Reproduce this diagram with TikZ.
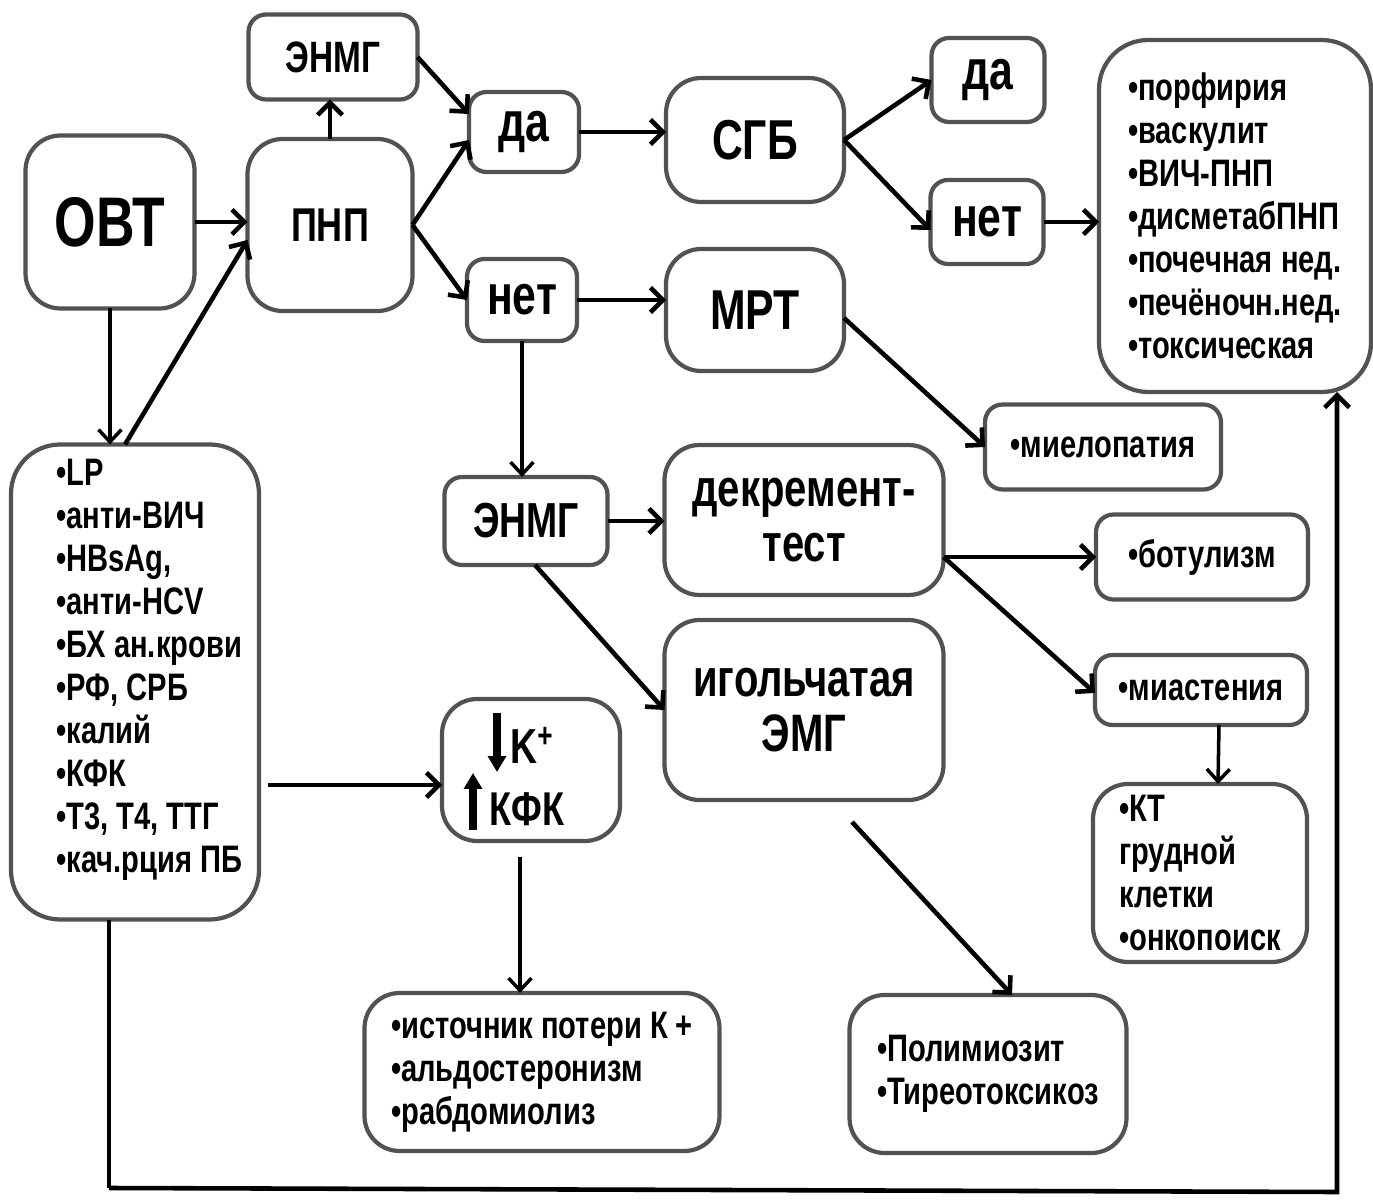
\documentclass[tikz,border=0pt]{standalone}
\usepackage{fontspec}
\setmainfont{Liberation Sans}[FakeStretch=0.76]
\usetikzlibrary{arrows.meta,calc}
\tikzset{
  box/.style={draw=black!68, line width=2.4pt, rounded corners=10pt, align=center, inner sep=2pt, outer sep=0pt, font=\bfseries},
  bigr/.style={rounded corners=20pt},
  sz/.style 2 args={minimum width={#1*0.02cm}, minimum height={#2*0.02cm}},
  fs/.style 2 args={font=\bfseries\fontsize{#1}{#2}\selectfont},
  lst/.style={align=left, font=\bfseries\fontsize{21.8}{24.5}\selectfont},
  ar/.style={-{Straight Barb[length=7pt,width=14pt]}, line width=2.6pt},
  art/.style={-{Straight Barb[length=7pt,width=13pt]}, line width=2pt},
  ln/.style={line width=2pt},
  sym/.style={-{Triangle[length=9pt,width=10pt]}, line width=4pt}
}
\begin{document}
\begin{tikzpicture}[x=0.02cm, y=-0.02cm]
\useasboundingbox (0,0) rectangle (1373,1202);
% nodes
\node[box, sz={169}{85}, fs={25}{28}] (enmgA) at (333,57) {ЭНМГ};
\node[box, bigr, sz={169}{173}, fs={40}{44}] (ovt) at (110,222) {ОВТ};
\node[box, bigr, sz={165}{172}, fs={27}{30}] (pnp) at (330,225) {ПНП};
\node[box, sz={110}{80}, fs={32}{36}] (daA) at (524,132) {да};
\node[box, sz={110}{82}, fs={32}{36}] (netA) at (522,300) {нет};
\node[box, bigr, sz={178}{124}, fs={32}{36}] (sgb) at (755,140) {СГБ};
\node[box, bigr, sz={178}{122}, fs={32}{36}] (mrt) at (755,310) {МРТ};
\node[box, sz={113}{84}, fs={32}{36}] (daB) at (988,80) {да};
\node[box, sz={113}{84}, fs={32}{36}] (netB) at (987,222) {нет};
\node[box, rounded corners=28pt, sz={272}{352}, lst] (big) at (1235,216)
  {•порфирия\\•васкулит\\•ВИЧ-ПНП\\•дисметабПНП\\•почечная нед.\\•печёночн.нед.\\•токсическая};
\node[box, sz={236}{85}, lst] (miel) at (1103,447) {•миелопатия};
\node[box, sz={163}{88}, fs={28}{31}] (enmgB) at (526,521) {ЭНМГ};
\node[box, bigr, sz={279}{150}, fs={30}{31}] (dekr) at (804,520) {декремент-\\тест};
\node[box, bigr, sz={279}{180}, fs={30}{31}] (igol) at (804,710) {игольчатая\\ЭМГ};
\node[box, sz={212}{85}, lst] (bot) at (1202,557) {•ботулизм};
\node[box, sz={212}{70}, lst] (miast) at (1201,690) {•миастения};
\node[box, bigr, sz={214}{178}, lst] (kt) at (1200,873) {•КТ\\грудной\\клетки\\•онкопоиск};
\node[box, rounded corners=28pt, sz={248}{475}] (list) at (135,682) {};
\node[lst, anchor=west, inner sep=0pt] (listt) at (56,670)
  {•LP\\•анти-ВИЧ\\•HBsAg,\\•анти-HCV\\•БХ ан.крови\\•РФ, СРБ\\•калий\\•КФК\\•Т3, Т4, ТТГ\\•кач.рция ПБ};
\node[box, bigr, sz={178}{142}] (kbox) at (531,770) {};
\node[fs={28}{30}] (ktxt) at (532,745) {K\textsuperscript{+}};
\node[fs={27}{30}] (kfk) at (527,809) {КФК};
\draw[sym] (497,713) -- (497,772);
\draw[sym] (473,830) -- (473,773);
\node[box, bigr, sz={355}{158}, lst] (src) at (542,1072) {•источник потери К +\\•альдостеронизм\\•рабдомиолиз};
\node[box, bigr, sz={277}{158}, lst] (poly) at (988,1074) {•Полимиозит\\•Тиреотоксикоз};
% free ends
\coordinate (la) at (268,785);
\coordinate (kb) at (520,857);
\coordinate (ig) at (852,822);
\coordinate (c1) at (109,1188);
\coordinate (c2) at (1337,1192);
% connectors
\draw[ar] (ovt.east) -- (pnp.west |- ovt.east);
\draw[art] (ovt.south) -- (ovt.south |- list.north);
\draw[ar] ($(list.north)+(-10,0)$) -- ($(pnp.west)+(0,15)$);
\draw[ar] (pnp.north) -- (pnp.north |- enmgA.south);
\draw[ar] (enmgA.east) -- ($(daA.west)+(0,-18)$);
\draw[ar] (pnp.east) -- ($(daA.west)+(0,8)$);
\draw[ar] (pnp.east) -- (netA.west);
\draw[ar] (daA.east) -- (daA.east -| sgb.west);
\draw[ar] (netA.east) -- (netA.east -| mrt.west);
\draw[ar] (sgb.east) -- (daB.west);
\draw[ar] (sgb.east) -- ($(netB.west)+(0,8)$);
\draw[ar] (netB.east) -- (netB.east -| big.west);
\draw[ar] ($(mrt.east)+(0,8)$) -- (miel.west);
\draw[art] (netA.south) -- (netA.south |- enmgB.north);
\draw[ar] (enmgB.east) -- (enmgB.east -| dekr.west);
\draw[ar] ($(enmgB.south)+(9,0)$) -- ($(igol.west)+(0,0)$);
\draw[ar] (dekr.east |- bot.west) -- (bot.west);
\draw[ar] (dekr.east |- bot.west) -- ($(miast.west)+(0,3)$);
\draw[art] ($(miast.south)+(18,0)$) -- ($(kt.north)+(18,0)$);
\draw[ar] (la) -- (la -| kbox.west);
\draw[art] (kb) -- (kb |- src.north);
\draw[ar] (ig) -- ($(poly.north)+(24,0)$);
\draw[ln] (c1 |- list.south) -- (c1);
\draw[ar] (c1) -- (c2) -- (c2 |- big.south);
\end{tikzpicture}
\end{document}
